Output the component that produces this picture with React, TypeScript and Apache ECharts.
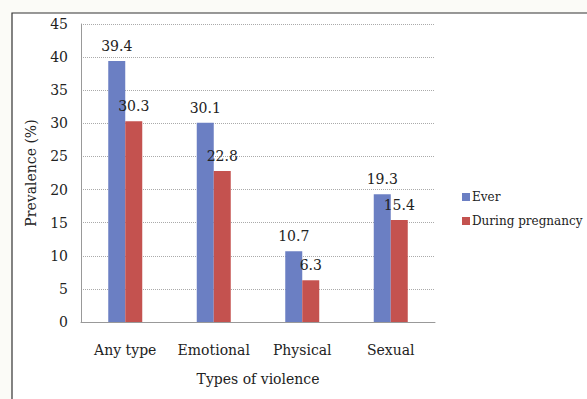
import React, { useEffect, useRef } from "react";
import * as echarts from "echarts";

const categories = ["Any type", "Emotional", "Physical", "Sexual"];
const everValues = [39.4, 30.1, 10.7, 19.3];
const pregnancyValues = [30.3, 22.8, 6.3, 15.4];
const seriesNames = ["Ever", "During pregnancy"];

const FONT = "DejaVu Serif";

export default function App() {
  const ref = useRef<HTMLDivElement>(null);
  useEffect(() => {
    if (!ref.current) return;
    const chart = echarts.init(ref.current, undefined, { renderer: "svg" });
    chart.setOption({
      animation: false,
      backgroundColor: "#fbfbf7",
      textStyle: { fontFamily: FONT, color: "#222" },
      graphic: [
        {
          type: "rect",
          shape: { x: 12, y: 13, width: 600, height: 420 },
          style: { fill: "#ffffff", stroke: "#333", lineWidth: 1.2 },
          z: -10,
        },
      ],
      grid: { left: 81, right: 152, top: 24, bottom: 77, containLabel: false },
      legend: {
        orient: "vertical",
        left: 457,
        top: 186,
        itemWidth: 8,
        itemHeight: 8,
        itemGap: 12,
        icon: "rect",
        textStyle: { fontFamily: FONT, fontSize: 12, color: "#222", padding: [0, 0, 0, -3] },
        data: seriesNames,
      },
      xAxis: {
        type: "category",
        data: categories,
        name: "Types of violence",
        nameLocation: "middle",
        nameGap: 50,
        nameTextStyle: { fontFamily: FONT, fontSize: 14, color: "#222" },
        axisLine: { lineStyle: { color: "#999" } },
        axisTick: { show: false },
        axisLabel: { interval: 0, fontFamily: FONT, fontSize: 14, color: "#222", margin: 21 },
      },
      yAxis: {
        type: "value",
        min: 0,
        max: 45,
        interval: 5,
        name: "Prevalence (%)",
        nameLocation: "middle",
        nameGap: 43,
        nameTextStyle: { fontFamily: FONT, fontSize: 14, color: "#222" },
        axisLine: { show: true, lineStyle: { color: "#999" } },
        axisTick: { show: false },
        axisLabel: { fontFamily: FONT, fontSize: 14, color: "#222", margin: 13 },
        splitLine: { lineStyle: { color: "#aaa", type: "dotted" } },
      },
      series: [
        {
          name: seriesNames[0],
          type: "bar",
          data: everValues,
          barWidth: 17,
          barGap: "0%",
          itemStyle: { color: "#6b7fc3" },
          label: {
            show: true,
            position: "top",
            distance: 8,
            fontFamily: FONT,
            fontSize: 14,
            color: "#222",
          },
        },
        {
          name: seriesNames[1],
          type: "bar",
          data: pregnancyValues,
          barWidth: 17,
          barGap: "0%",
          itemStyle: { color: "#c4524f" },
          label: {
            show: true,
            position: "top",
            distance: 8,
            fontFamily: FONT,
            fontSize: 14,
            color: "#222",
          },
        },
      ],
    });
    return () => chart.dispose();
  }, []);
  return (
    <div
      ref={ref}
      style={{ position: "fixed", left: 0, top: 0, width: 587, height: 399 }}
    />
  );
}
